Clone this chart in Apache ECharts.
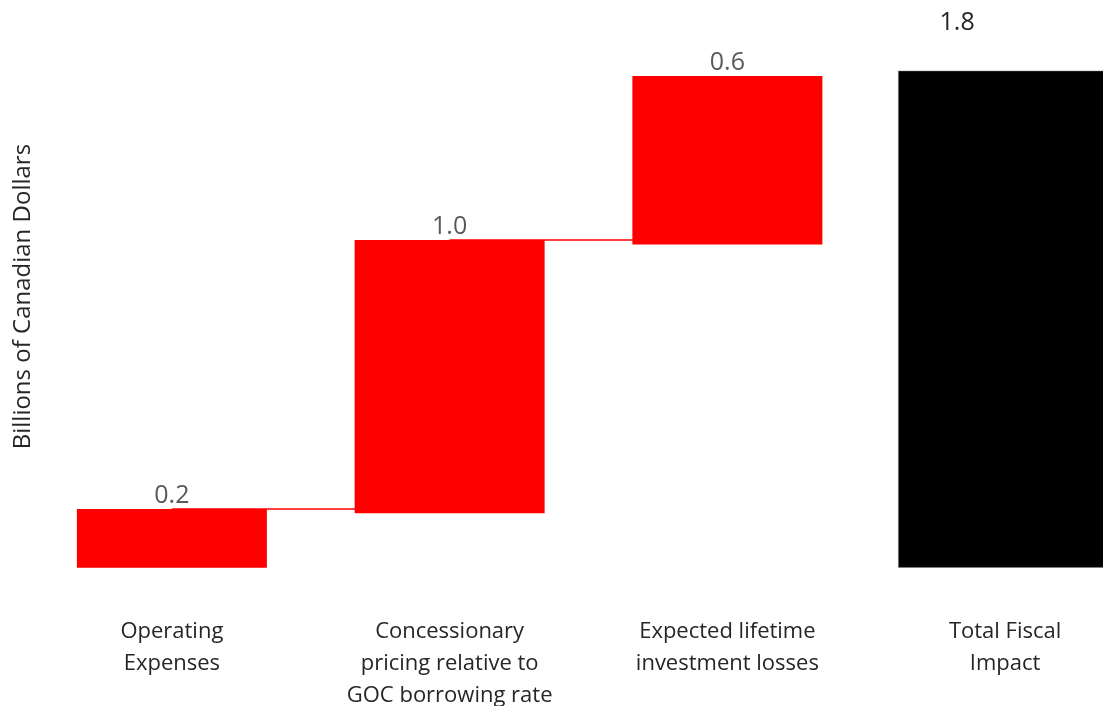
<!DOCTYPE html>
<html>
<head>
<meta charset="utf-8">
<script src="https://cdn.jsdelivr.net/npm/echarts@6/dist/echarts.min.js"></script>
<style>
html,body{margin:0;padding:0;background:#fff;}
#chart{width:1103px;height:706px;}
</style>
</head>
<body>
<div id="chart"></div>
<script>
var categories = ['Operating\nExpenses', 'Concessionary\npricing relative to\nGOC borrowing rate', 'Expected lifetime\ninvestment losses', 'Total Fiscal\nImpact'];
var stepBases = [0, 0.197, 1.171];
var stepValues = [0.213, 0.99, 0.61];
var totalValue = 1.80;
var valueLabels = ['0.2', '1.0', '0.6', '1.8'];
var yAxisTitle = 'Billions of Canadian Dollars';

var baseData = stepBases.concat(['-']);
var stepData = stepValues.concat(['-']);
var totalData = ['-', '-', '-', totalValue];
var connectorData = [];
for (var i = 0; i < stepValues.length - 1; i++) {
  connectorData.push([i, stepBases[i] + stepValues[i]]);
}

var FONT = 'Open Sans';
var chart = echarts.init(document.getElementById('chart'), null, {renderer: 'canvas'});
chart.setOption({
  animation: false,
  backgroundColor: '#ffffff',
  grid: {left: 33, right: -41, top: 15.5, bottom: 138.3, containLabel: false, outerBoundsMode: 'none'},
  xAxis: [{
    type: 'category',
    data: categories,
    axisLine: {show: false},
    axisTick: {show: false},
    splitLine: {show: false},
    axisLabel: {
      interval: 0,
      margin: 48,
      color: '#262626',
      fontFamily: FONT,
      fontSize: 22,
      lineHeight: 32,
      align: 'center'
    }
  }, {
    type: 'category',
    data: categories,
    show: false
  }],
  yAxis: {
    type: 'value',
    min: 0,
    max: 2,
    axisLine: {show: false},
    axisTick: {show: false},
    axisLabel: {show: false},
    splitLine: {show: false},
    name: yAxisTitle,
    nameLocation: 'middle',
    nameRotate: 90,
    nameGap: -2,
    nameTextStyle: {color: '#262626', fontFamily: FONT, fontSize: 24, padding: [0, 10, 0, 0]}
  },
  series: [{
    type: 'custom',
    name: 'connectors',
    xAxisIndex: 0,
    yAxisIndex: 0,
    z: 1,
    silent: true,
    data: connectorData,
    renderItem: function (params, api) {
      var idx = api.value(0), v = api.value(1);
      var p1 = api.coord([idx, v]);
      var p2 = api.coord([idx + 1, v]);
      return {
        type: 'line',
        shape: {x1: p1[0], y1: p1[1], x2: p2[0], y2: p2[1]},
        style: {stroke: '#FF0000', lineWidth: 1.5}
      };
    }
  }, {
    type: 'bar',
    name: 'base',
    stack: 'w',
    xAxisIndex: 0,
    z: 2,
    barWidth: 190,
    data: baseData,
    itemStyle: {color: 'rgba(0,0,0,0)'},
    silent: true
  }, {
    type: 'bar',
    name: 'steps',
    stack: 'w',
    xAxisIndex: 0,
    z: 2,
    barWidth: 190,
    data: stepData,
    itemStyle: {color: '#FF0000'},
    label: {
      show: true,
      position: 'top',
      distance: 1,
      color: '#595959',
      fontFamily: FONT,
      fontSize: 25,
      formatter: function (p) { return valueLabels[p.dataIndex]; }
    }
  }, {
    type: 'bar',
    name: 'total',
    xAxisIndex: 1,
    z: 2,
    barWidth: 214,
    data: totalData,
    itemStyle: {color: '#000000', borderColor: '#7f7f7f', borderWidth: 0.5},
    label: {
      show: true,
      position: 'top',
      distance: 4,
      offset: [-48, -31],
      color: '#262626',
      fontFamily: FONT,
      fontSize: 25,
      formatter: function (p) { return valueLabels[p.dataIndex]; }
    }
  }]
});
</script>
</body>
</html>
